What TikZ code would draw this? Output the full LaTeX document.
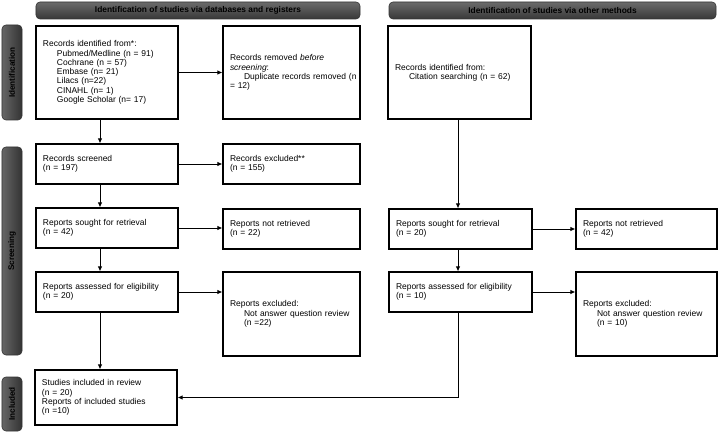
\documentclass[tikz,border=0pt]{standalone}
\usepackage{fontspec}
\setmainfont{Liberation Sans}
\usetikzlibrary{arrows.meta,positioning}
\newcommand{\ind}{\hspace*{14bp}}
\begin{document}
\begin{tikzpicture}[x=1bp,y=-1bp,
  box/.style={draw=black,line width=1.1bp,fill=white,inner xsep=7bp,inner ysep=2bp,
    align=left,font=\fontsize{8.5}{9.3}\selectfont,anchor=center},
  hdr/.style={draw=black!80,line width=0.6bp,rounded corners=4bp,top color=black!58,bottom color=black!78,
    font=\fontsize{8.4}{9}\selectfont\bfseries,text=black,inner sep=0pt,anchor=center},
  side/.style={draw=black!80,line width=0.6bp,rounded corners=4bp,left color=black!60,right color=black!80,
    inner sep=0pt,anchor=center},
  sidetext/.style={font=\fontsize{8.2}{9}\selectfont\bfseries,text=black,rotate=90,inner sep=0pt},
  arr/.style={line width=0.9bp,-{Latex[length=5bp,width=4.5bp]}},
  ln/.style={line width=0.9bp}]
\useasboundingbox (0,0) rectangle (718,433);
% headers
\node[hdr,minimum width=324bp,minimum height=17bp] (hdrL) at (198,10.5) {Identification of studies via databases and registers};
\node[hdr,minimum width=327bp,minimum height=17bp] (hdrR) at (552.5,10.5) {Identification of studies via other methods};
% side labels
\node[side,minimum width=20bp,minimum height=95bp] (sideId) at (12,72.5) {};
\node[sidetext] (sideIdT) at (sideId.center) {Identification};
\node[side,minimum width=20bp,minimum height=208bp] (sideSc) at (12,251) {};
\node[sidetext] (sideScT) at (sideSc.center) {Screening};
\node[side,minimum width=20bp,minimum height=54bp] (sideIn) at (12,404) {};
\node[sidetext] (sideInT) at (sideIn.center) {Included};
% left column
\node[box,minimum width=142bp,minimum height=93bp,text width=128bp] (idDB) at (107,72.5)
 {Records identified from*:\\\ind Pubmed/Medline (n = 91)\\\ind Cochrane (n = 57)\\\ind Embase (n= 21)\\\ind Lilacs (n=22)\\\ind CINAHL (n= 1)\\\ind Google Scholar (n= 17)};
\node[box,minimum width=137bp,minimum height=93bp,text width=123bp] (removed) at (291.5,72.5)
 {Records removed \textit{before}\\\textit{screening}:\\\ind\makebox[100bp][l]{Duplicate records removed (n}\\= 12)};
\node[box,minimum width=142bp,minimum height=40bp,text width=128bp] (screened) at (107,164)
 {Records screened\\(n = 197)};
\node[box,minimum width=137bp,minimum height=40bp,text width=123bp] (excluded) at (291.5,164)
 {Records excluded**\\(n = 155)};
\node[box,minimum width=142bp,minimum height=40bp,text width=128bp] (soughtL) at (107,228)
 {Reports sought for retrieval\\(n = 42)};
\node[box,minimum width=137bp,minimum height=40bp,text width=123bp] (notretL) at (291.5,229)
 {Reports not retrieved\\(n = 22)};
\node[box,minimum width=142bp,minimum height=40bp,text width=128bp] (assessL) at (107,292)
 {Reports assessed for eligibility\\(n = 20)};
\node[box,minimum width=137bp,minimum height=84bp,text width=123bp] (exclL) at (291.5,314)
 {Reports excluded:\\\ind Not answer question review\\\ind (n =22)};
\node[box,minimum width=142bp,minimum height=55bp,text width=128bp] (included) at (106,397.5)
 {Studies included in review\\(n = 20)\\Reports of included studies\\(n =10)};
% right column
\node[box,minimum width=143bp,minimum height=93bp,text width=129bp] (idOther) at (459.5,72.5)
 {Records identified from:\\\ind Citation searching (n = 62)};
\node[box,minimum width=143bp,minimum height=40bp,text width=129bp] (soughtR) at (460.5,229)
 {Reports sought for retrieval\\(n = 20)};
\node[box,minimum width=141bp,minimum height=40bp,text width=127bp] (notretR) at (646.5,229)
 {Reports not retrieved\\(n = 42)};
\node[box,minimum width=143bp,minimum height=40bp,text width=129bp] (assessR) at (460.5,292)
 {Reports assessed for eligibility\\(n = 10)};
\node[box,minimum width=141bp,minimum height=84bp,text width=127bp] (exclR) at (646.5,314)
 {Reports excluded:\\\ind Not answer question review\\\ind (n = 10)};
% column coordinates
\coordinate (colL) at (100,0);
\coordinate (colR) at (458,0);
% vertical arrows
\draw[arr] (idDB.south -| colL) -- (screened.north -| colL);
\draw[arr] (screened.south -| colL) -- (soughtL.north -| colL);
\draw[arr] (soughtL.south -| colL) -- (assessL.north -| colL);
\draw[arr] (assessL.south -| colL) -- (included.north -| colL);
\draw[arr] (idOther.south -| colR) -- (soughtR.north -| colR);
\draw[arr] (soughtR.south -| colR) -- (assessR.north -| colR);
\draw[arr] (assessR.south -| colR) |- (included.east);
% horizontal arrows
\draw[arr] (idDB.east) -- (idDB.east -| removed.west);
\draw[arr] (screened.east) -- (screened.east -| excluded.west);
\draw[arr] (soughtL.east) -- (soughtL.east -| notretL.west);
\draw[arr] (assessL.east) -- (assessL.east -| exclL.west);
\draw[arr] (soughtR.east) -- (soughtR.east -| notretR.west);
\draw[arr] (assessR.east) -- (assessR.east -| exclR.west);
\end{tikzpicture}
\end{document}
